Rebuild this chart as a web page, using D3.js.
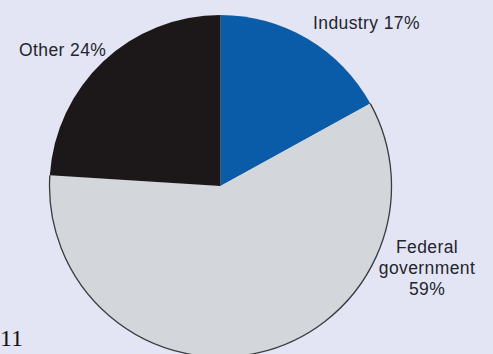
<!DOCTYPE html>
<html>
<head>
<meta charset="utf-8">
<script src="https://cdn.jsdelivr.net/npm/d3@7/dist/d3.min.js"></script>
<style>
  html, body { margin: 0; padding: 0; background: #e3e5f4; }
  svg { display: block; }
</style>
</head>
<body>
<svg id="chart" width="493" height="354"></svg>
<script>
// Funding sources, share of total (%)
const categories = ["Industry", "Federal government", "Other"];
const values = [17, 59, 24];
const labelLines = [["Industry 17%"], ["Federal", "government", "59%"], ["Other 24%"]];
const colors = ["#0b5ca8", "#d3d6da", "#1c1819"];

const W = 493, H = 354;
const cx = 220.5, cy = 186, r = 171;

const svg = d3.select("#chart");
svg.append("rect").attr("width", W).attr("height", H).attr("fill", "#e3e5f4");

const pie = d3.pie().sort(null).value(d => d)(values);
const arc = d3.arc().innerRadius(0).outerRadius(r);

const g = svg.append("g").attr("transform", `translate(${cx},${cy})`);
g.selectAll("path.slice")
  .data(pie)
  .join("path")
  .attr("class", "slice")
  .attr("d", arc)
  .attr("fill", (d, i) => colors[i]);

// thin outline around the light slice
g.append("path")
  .attr("d", d3.arc().innerRadius(r).outerRadius(r)(pie[1]))
  .attr("fill", "none")
  .attr("stroke", "#3a3c3e")
  .attr("stroke-width", 1.3);

// labels placed outside the pie
const labelPos = [
  { x: 313, y: 29, anchor: "start" },
  { x: 427, y: 253, anchor: "middle" },
  { x: 19, y: 56, anchor: "start" }
];
const lab = svg.append("g")
  .attr("font-family", "'Liberation Sans', Arial, sans-serif")
  .attr("font-size", 17.5)
  .attr("letter-spacing", 0.4)
  .attr("fill", "#24252d");
labelLines.forEach((lines, i) => {
  const t = lab.append("text")
    .attr("x", labelPos[i].x)
    .attr("y", labelPos[i].y)
    .attr("text-anchor", labelPos[i].anchor);
  lines.forEach((ln, k) => {
    t.append("tspan")
      .attr("x", labelPos[i].x)
      .attr("dy", k === 0 ? 0 : 21)
      .text(ln);
  });
});

// page number
svg.append("text")
  .attr("x", 0)
  .attr("y", 345.5)
  .attr("font-family", "'Liberation Serif', 'Times New Roman', serif")
  .attr("font-size", 24)
  .attr("fill", "#111")
  .text("11");
</script>
</body>
</html>
